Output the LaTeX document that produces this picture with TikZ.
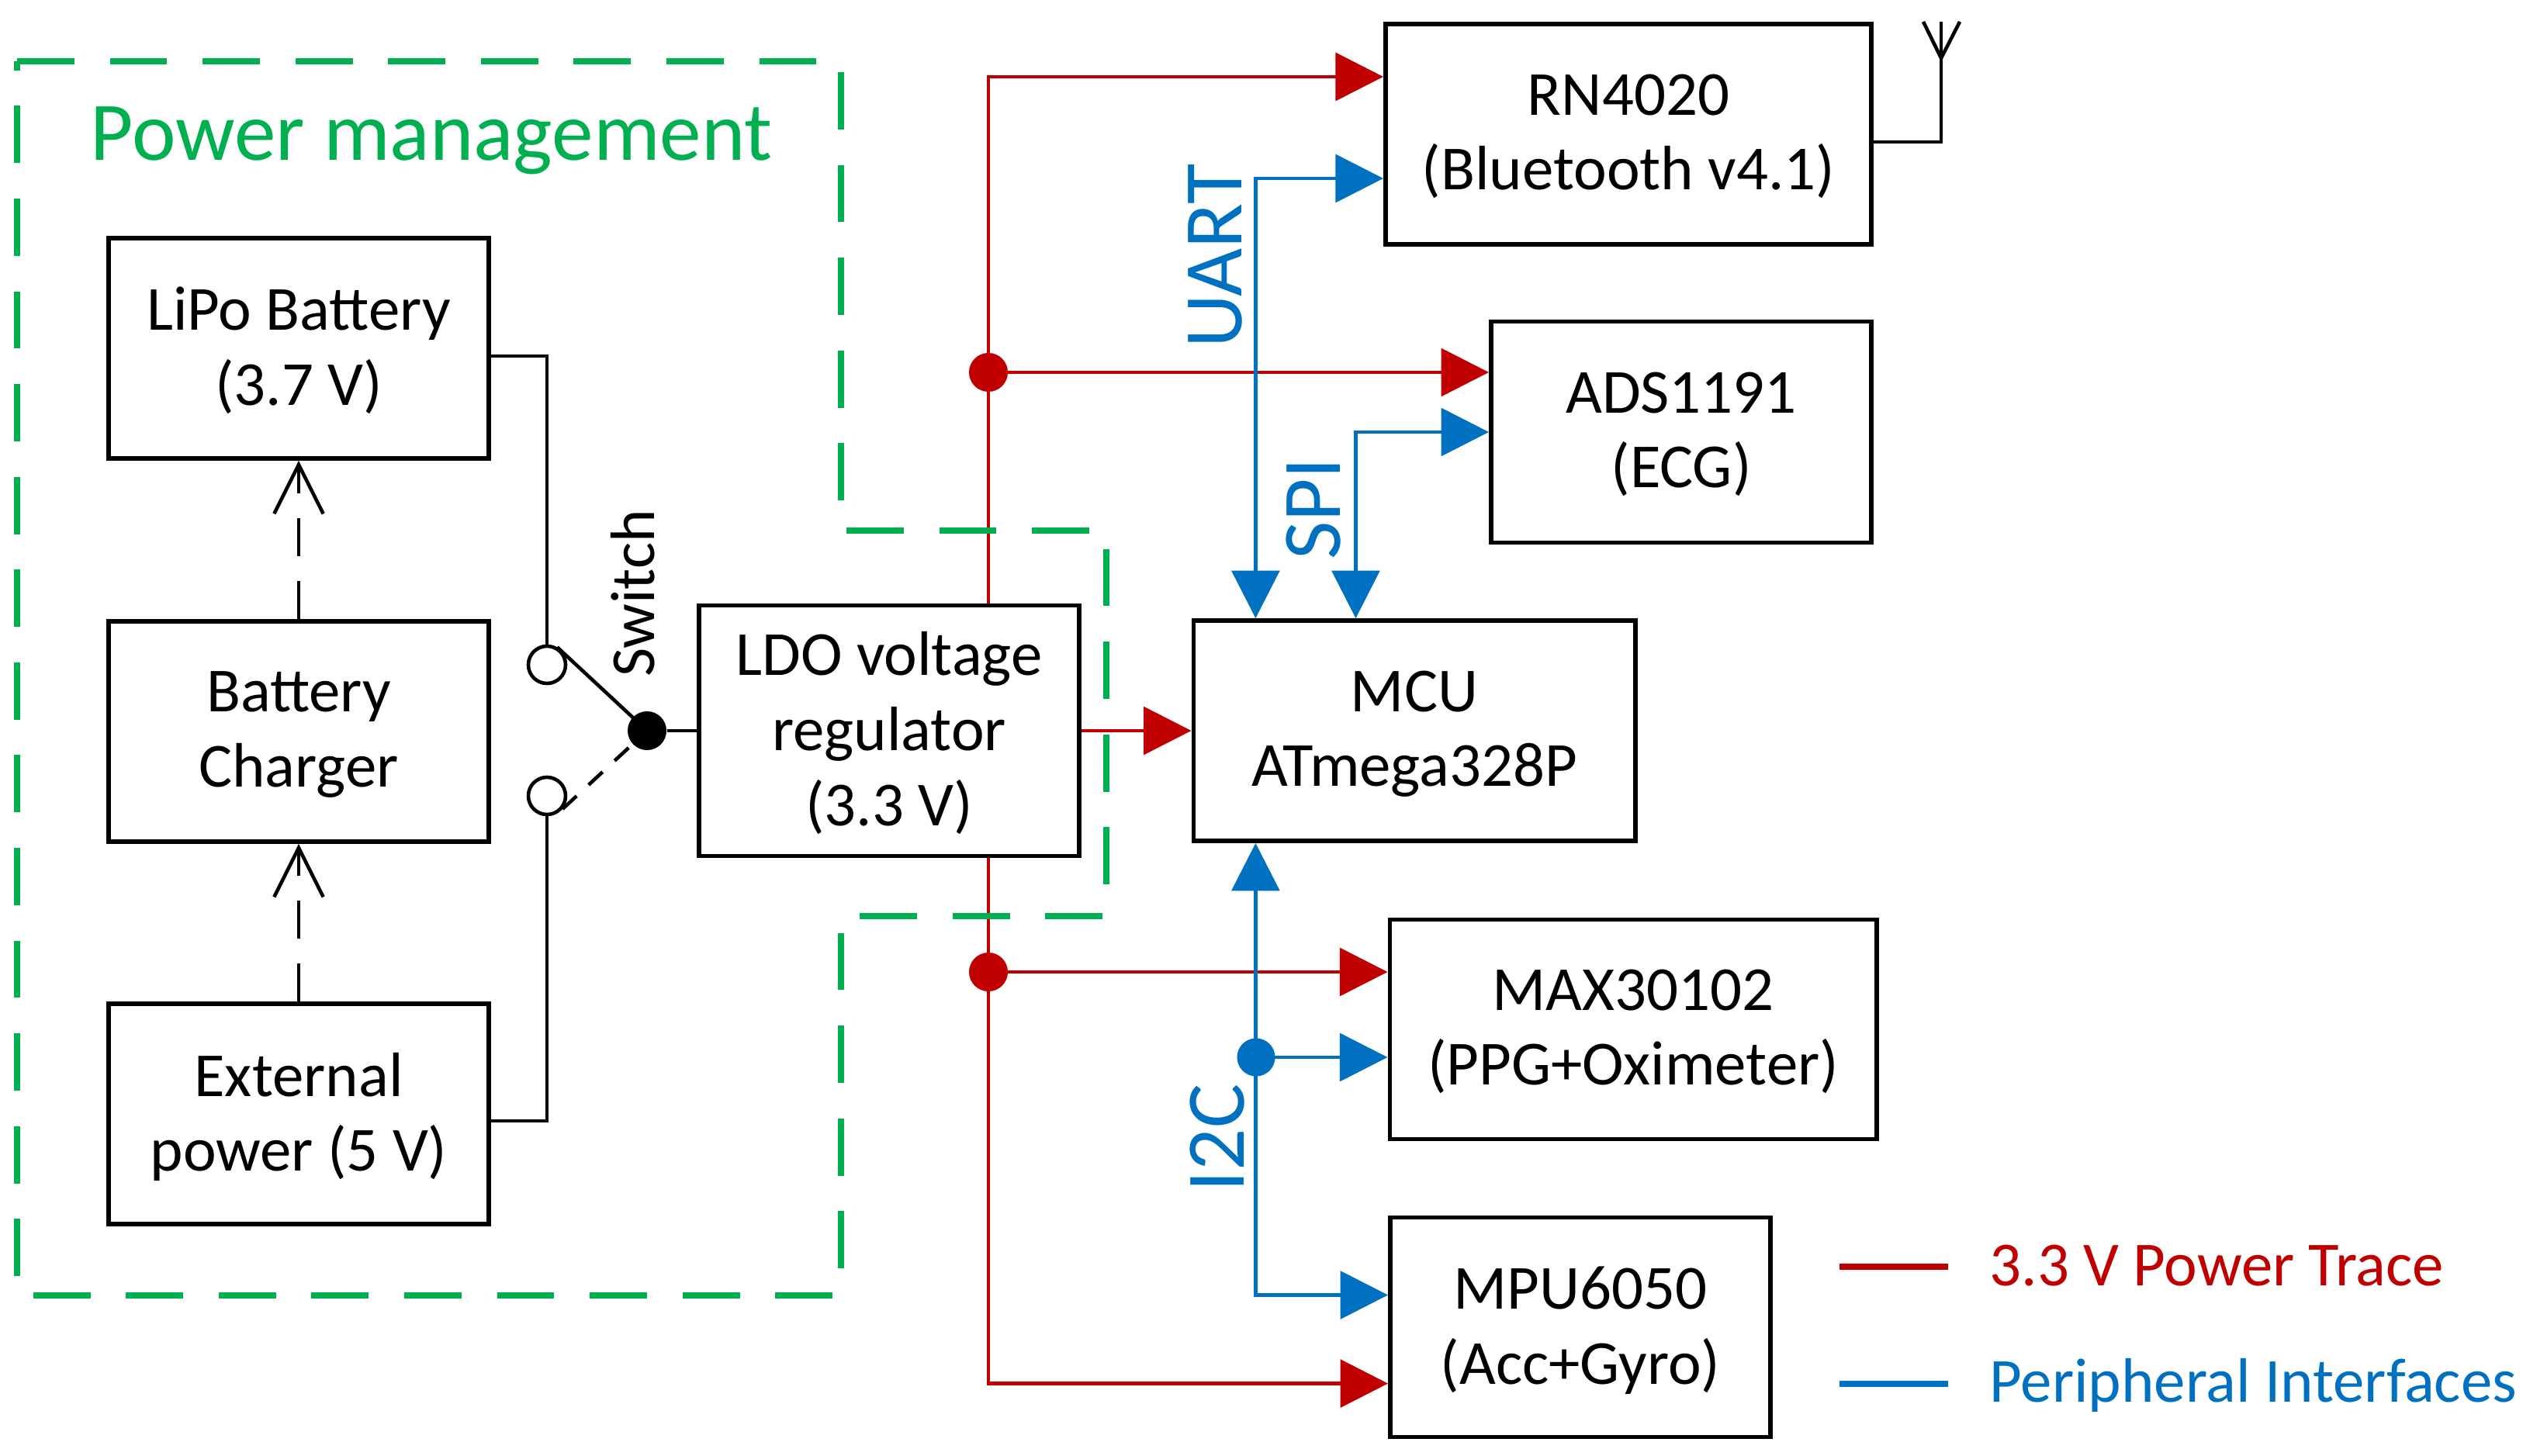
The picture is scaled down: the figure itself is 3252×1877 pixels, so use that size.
\documentclass[tikz,border=0pt]{standalone}
\usepackage{fontspec}
\setmainfont{Carlito}
\usetikzlibrary{arrows.meta}
\definecolor{pwrred}{HTML}{C00000}
\definecolor{ifblue}{HTML}{0070C0}
\definecolor{pmgreen}{HTML}{00B050}

\begin{document}
\begin{tikzpicture}[x=0.01cm,y=-0.01cm,
  blk/.style={draw,line width=1.6pt,align=center,inner sep=0pt,text depth=1.5pt,minimum width=4.9cm,minimum height=2.84cm,font=\fontsize{23}{27.5}\selectfont},
  wire/.style={line width=1.3pt},
  dar/.style={line width=1.3pt,dash pattern=on 14pt off 9pt,-{Straight Barb[length=18pt,width=18pt]}},
  pwr/.style={draw=pwrred,line width=1.3pt,>={Triangle[length=17.5pt,width=17.5pt]}},
  sig/.style={draw=ifblue,line width=1.3pt,>={Triangle[length=17.5pt,width=17.5pt]}},
  bus/.style={rotate=90,anchor=south,inner sep=0pt,text=ifblue,font=\fontsize{30.5}{36}\selectfont},
  lgd/.style={anchor=base west,inner sep=0pt,font=\fontsize{23}{27.5}\selectfont},
  pin/.style={circle,draw,line width=1.3pt,minimum size=0.48cm,inner sep=0pt}]
\useasboundingbox (0,0) rectangle (3252,1877);

\node[blk] (lipo) at (385,449) {LiPo Battery\\(3.7 V)};
\node[blk] (charger) at (385,943) {Battery\\Charger};
\node[blk] (ext) at (385,1436) {External\\power (5 V)};
\node[blk,minimum height=3.23cm] (ldo) at (1146,942) {LDO voltage\\regulator\\(3.3 V)};
\node[blk,minimum width=5.69cm] (mcu) at (1823,942) {MCU\\ATmega328P};
\node[blk,minimum width=6.26cm] (rn) at (2099,173) {RN4020\\(Bluetooth v4.1)};
\node[blk,minimum height=2.85cm] (ads) at (2167,557) {ADS1191\\(ECG)};
\node[blk,minimum width=6.27cm,minimum height=2.83cm] (max) at (2105,1327) {MAX30102\\(PPG+Oximeter)};
\node[blk,minimum height=2.83cm] (mpu) at (2037,1711) {MPU6050\\(Acc+Gyro)};

\node[pin] (swa) at (705,857) {};
\node[pin] (swb) at (705,1026) {};
\node[circle,fill,minimum size=0.5cm,inner sep=0pt] (swc) at (834,942) {};
\node[rotate=90,anchor=south,inner sep=0pt,font=\fontsize{23}{27.5}\selectfont] (swl) at (845,765) {Switch};

\draw[wire] ([yshift=-0.1cm]lipo.east) -| (swa.north);
\draw[wire] ([yshift=-0.09cm]ext.east) -| (swb.south);
\draw[wire] (swa.60) -- (swc.center);
\draw[wire,dash pattern=on 7pt off 6pt] (swb.-40) -- (swc.center);
\draw[wire] (swc) -- (ldo.west);

\draw[dar] (charger.north) -- (lipo.south);
\draw[dar] (ext.north) -- (charger.south);

\coordinate (j1) at (1274,480);
\coordinate (j2) at (1274,1253);
\coordinate (j3) at (1619,1363);
\draw[pwr,->] (ldo.north -| j1) |- ([yshift=0.74cm]rn.west);
\draw[pwr,->] (j1) -- (j1 -| ads.west);
\draw[pwr,->] (ldo.south -| j2) |- ([yshift=-0.725cm]mpu.west);
\draw[pwr,->] (j2) -- (j2 -| max.west);
\draw[pwr,->] (ldo.east) -- (mcu.west);
\fill[pwrred] (j1) circle (0.25cm);
\fill[pwrred] (j2) circle (0.25cm);

\draw[sig,<->] ([yshift=-0.57cm]rn.west) -| ([xshift=-2.045cm]mcu.north);
\draw[sig,<->] (ads.west) -| ([xshift=-0.755cm]mcu.north);
\draw[sig,<->] ([xshift=-2.045cm]mcu.south) |- ([yshift=0.415cm]mpu.west);
\draw[sig,->] (j3) -- (j3 -| max.west);
\fill[ifblue] (j3) circle (0.245cm);

\node[bus] (uart) at (1602,330) {UART};
\node[bus] (spi) at (1729,656) {SPI};
\node[bus] (i2c) at (1605,1467) {I2C};

\coordinate (ant) at (2502,28);
\draw[wire] ([yshift=-0.1cm]rn.east) -| (ant);
\draw[wire] (2479,28) -- (2502,75) -- (2526,28);

\draw[pmgreen,line width=2.2pt,dash pattern=on 21pt off 13pt] (22,79) -- (1084,79) -- (1084,684) -- (1426,684) -- (1426,1181) -- (1084,1181) -- (1084,1670) -- (22,1670) -- cycle;
\node[anchor=base,inner sep=0pt,text=pmgreen,font=\fontsize{30.5}{36}\selectfont] (pmtitle) at (556,207) {Power management};

\node[lgd,text=pwrred] (lgpwr) at (2564,1657) {3.3 V Power Trace};
\node[lgd,text=ifblue] (lgif) at (2564,1807) {Peripheral Interfaces};
\draw[pwrred,line width=2pt] ([xshift=-0.53cm,yshift=0.24cm]lgpwr.base west) -- ++(-140,0);
\draw[ifblue,line width=2pt] ([xshift=-0.53cm,yshift=0.23cm]lgif.base west) -- ++(-140,0);
\end{tikzpicture}
\end{document}
